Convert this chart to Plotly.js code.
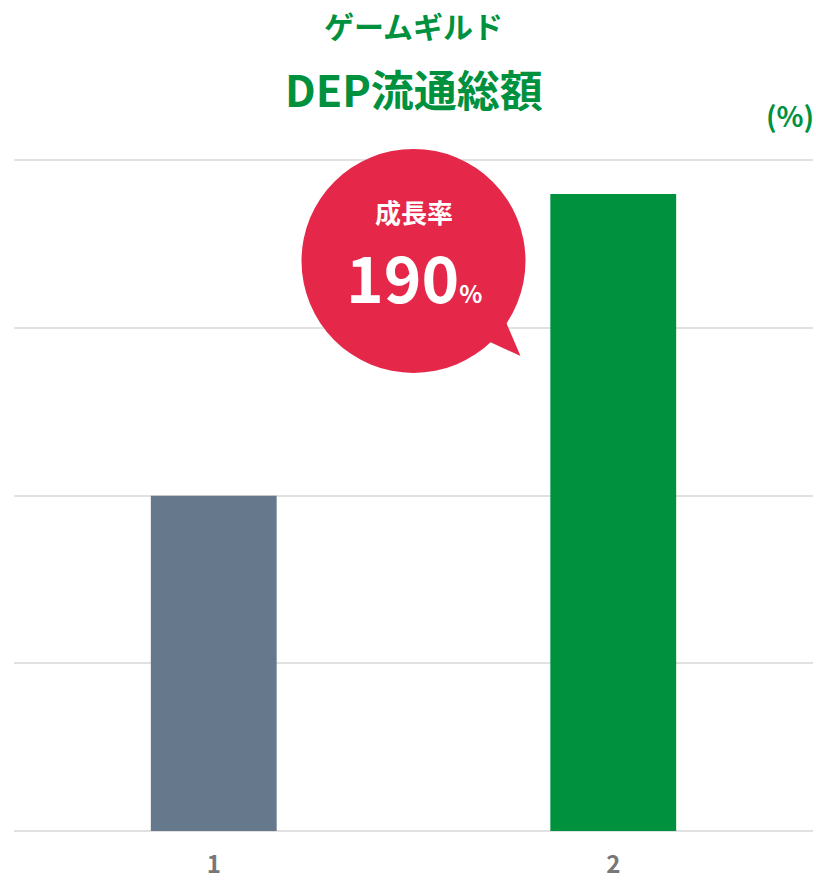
<!DOCTYPE html>
<html><head><meta charset="utf-8">
<script src="https://cdn.plot.ly/plotly-3.0.1.min.js"></script>
<style>html,body{margin:0;padding:0;background:#fff;}#chart{width:816px;height:881px;}</style>
</head><body><div id="chart"></div>
<script>
const categories = ['1', '2'];
const values = [100, 190];
const barColors = ['#66788c', '#00913f'];
const growthLabel = '成長率';
const growthValue = '190';
const titleSub = 'ゲームギルド';
const titleMain = 'DEP流通総額';
const unitLabel = '(%)';
const gridTicks = [0, 50, 100, 150, 200];

const green = '#00913f';
const red = '#e52749';
const font = 'Noto Sans CJK JP, Noto Sans, sans-serif';

const yMax = 201;
const bubbleXp = 0.5, bubbleYp = 170 / yMax, R = 112;

const data = [{
  type: 'bar',
  x: [0, 1],
  y: values,
  width: 0.315,
  marker: {color: barColors},
  hoverinfo: 'none'
}];

const layout = {
  width: 816, height: 881,
  margin: {l: 14, r: 3, t: 157, b: 50},
  paper_bgcolor: '#fff', plot_bgcolor: '#fff',
  showlegend: false,
  font: {family: font},
  xaxis: {
    range: [-0.5, 1.5], tickvals: [0, 1], ticktext: categories,
    showgrid: false, zeroline: false, showline: false, ticks: '',
    tickfont: {size: 24, color: '#777', family: font, weight: 'bold'},
    ticklabelstandoff: 17, fixedrange: true
  },
  yaxis: {
    range: [0, yMax], tickvals: gridTicks, showticklabels: false,
    showgrid: true, gridcolor: '#e1e1e1', gridwidth: 2,
    zeroline: true, zerolinecolor: '#e1e1e1', zerolinewidth: 2, fixedrange: true
  },
  shapes: [
    {type: 'path', xref: 'paper', yref: 'paper', xsizemode: 'pixel', ysizemode: 'pixel',
     xanchor: bubbleXp, yanchor: bubbleYp,
     path: 'M 70,-78 L 107,-95 L 92,-60 Z', fillcolor: red, line: {width: 0}, layer: 'above'},
    {type: 'circle', xref: 'paper', yref: 'paper', xsizemode: 'pixel', ysizemode: 'pixel',
     xanchor: bubbleXp, yanchor: bubbleYp,
     x0: -R, x1: R, y0: -R, y1: R, fillcolor: red, line: {width: 0}, layer: 'above'}
  ],
  annotations: [
    {xref: 'paper', yref: 'paper', x: 0.5, y: 1, yshift: 157 - 25, xanchor: 'center', yanchor: 'middle',
     text: titleSub, showarrow: false, font: {size: 30, color: green, family: font, weight: 'bold'}},
    {xref: 'paper', yref: 'paper', x: 0.5, y: 1, yshift: 157 - 88, xanchor: 'center', yanchor: 'middle',
     text: titleMain, showarrow: false, font: {size: 43, color: green, family: font, weight: 'bold'}},
    {xref: 'paper', yref: 'paper', x: 1, y: 1, xshift: 3, yshift: 157 - 115, xanchor: 'right', yanchor: 'middle',
     text: unitLabel, showarrow: false, font: {size: 28, color: green, family: font, weight: 'bold'}},
    {xref: 'paper', yref: 'paper', x: bubbleXp, y: bubbleYp, yshift: 49, xanchor: 'center', yanchor: 'middle',
     text: growthLabel, showarrow: false, font: {size: 26, color: '#fff', family: font, weight: 'bold'}},
    {xref: 'paper', yref: 'paper', x: bubbleXp, y: bubbleYp, yshift: -14, xanchor: 'center', yanchor: 'middle',
     text: growthValue + '<span style="font-size:24px">%</span>', showarrow: false,
     font: {size: 64, color: '#fff', family: font, weight: 'bold'}}
  ]
};

Plotly.newPlot('chart', data, layout, {displayModeBar: false, staticPlot: true});
</script></body></html>
